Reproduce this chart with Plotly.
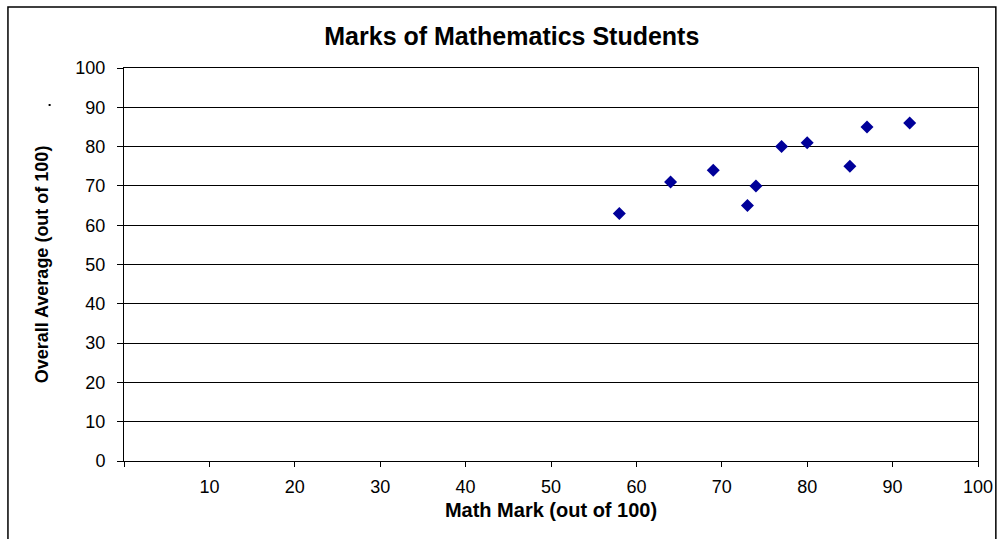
import plotly.graph_objects as go

# data
math_mark = [58, 64, 69, 73, 74, 77, 80, 85, 87, 92]
overall_avg = [63, 71, 74, 65, 70, 80, 81, 75, 85, 86]

x_ticks = list(range(0, 101, 10))
x_tick_text = [""] + [str(v) for v in x_ticks[1:]]
y_ticks = list(range(0, 101, 10))

FONT = "Arial, Liberation Sans, sans-serif"
W, H = 1005, 539
L, R, T, B = 124, 20, 68, 78


def px_x(px):
    return (px - L) / (W - L - R)


def px_y(py):
    return (H - B - py) / (H - T - B)


fig = go.Figure()

fig.add_trace(go.Scatter(x=math_mark, y=overall_avg, mode="markers", name="Marks",
                         marker=dict(symbol="diamond", size=10, color="#000099")))

fig.update_layout(
    width=W, height=H,
    margin=dict(l=L, r=R, t=T, b=B),
    paper_bgcolor="white", plot_bgcolor="white",
    showlegend=False,
    font=dict(family=FONT, color="black"),
    title=dict(text="<b>Marks of Mathematics Students</b>", font=dict(size=25, family=FONT),
               x=px_x(515), xref="paper", y=1 - 36 / H, yanchor="middle", xanchor="center"),
)

fig.update_xaxes(range=[0, 100], tickvals=x_ticks, ticktext=x_tick_text,
                 showgrid=False, zeroline=False, showline=True, linecolor="black", linewidth=1,
                 mirror=True, ticks="outside", ticklen=5, tickcolor="black",
                 tickfont=dict(size=18), ticklabelstandoff=4,
                 title=dict(text="<b>Math Mark (out of 100)</b>", font=dict(size=20), standoff=7))

fig.update_yaxes(range=[0, 100], tickvals=y_ticks,
                 showgrid=True, gridcolor="black", gridwidth=1, zeroline=False,
                 showline=True, linecolor="black", linewidth=1, mirror=True,
                 ticks="outside", ticklen=6, tickcolor="black",
                 tickfont=dict(size=18), ticklabelstandoff=8,
                 title=dict(text="<b>Overall Average (out of 100)</b>", font=dict(size=18), standoff=22))

# chart area border
fig.add_shape(type="rect", xref="paper", yref="paper",
              x0=px_x(7), x1=px_x(1003), y0=px_y(545), y1=px_y(7),
              line=dict(color="black", width=1.5), layer="below")

# stray dot left of the axis
fig.add_shape(type="rect", xref="paper", yref="paper",
              x0=px_x(48), x1=px_x(50), y0=px_y(106), y1=px_y(104),
              line=dict(width=0), fillcolor="black")

# remove the default page margin so the figure sits at the window's corner
fig.write_html("out.html", config={"displayModeBar": False},
               post_script="document.body.style.margin='0';")
